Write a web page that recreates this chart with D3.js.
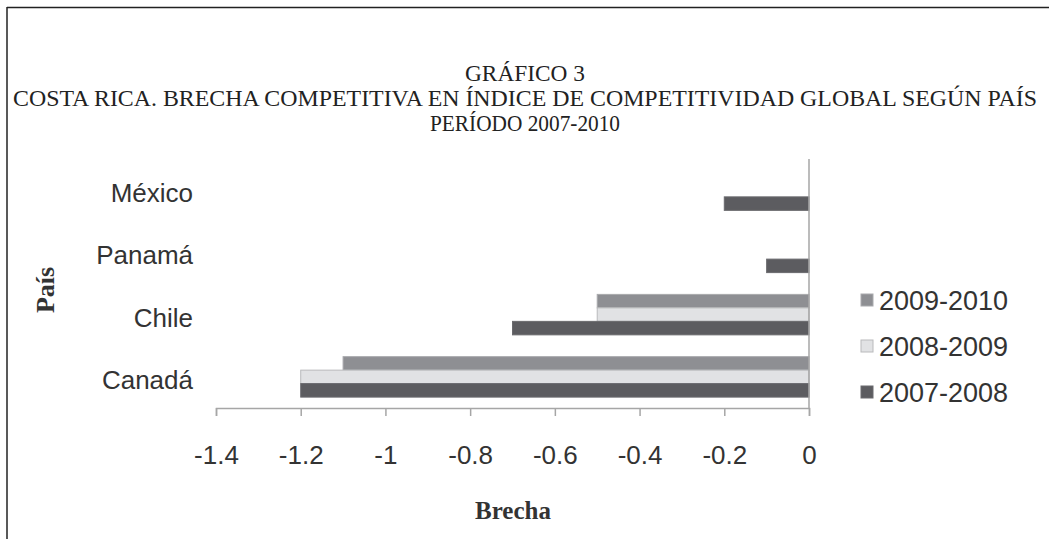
<!DOCTYPE html>
<html>
<head>
<meta charset="utf-8">
<script src="https://cdn.jsdelivr.net/npm/d3@7"></script>
<style>
  html, body { margin: 0; padding: 0; background: #fff; }
  svg { display: block; }
</style>
</head>
<body>
<svg id="chart" width="1049" height="539"></svg>
<script>
// ---- data ----
const categories = ["México", "Panamá", "Chile", "Canadá"];
const seriesNames = ["2009-2010", "2008-2009", "2007-2008"];
const values2009_2010 = [0, 0, -0.5, -1.1];
const values2008_2009 = [0, 0, -0.5, -1.2];
const values2007_2008 = [-0.2, -0.1, -0.7, -1.2];
const xTicks = [-1.4, -1.2, -1, -0.8, -0.6, -0.4, -0.2, 0];
const titleLines = [
  "GRÁFICO 3",
  "COSTA RICA. BRECHA COMPETITIVA EN ÍNDICE DE COMPETITIVIDAD GLOBAL SEGÚN PAÍS",
  "PERÍODO 2007-2010"
];

const seriesValues = [values2009_2010, values2008_2009, values2007_2008];
const colors = ["#8e8f93", "#e1e2e4", "#5c5c60"];
const strokes = ["#a9aaad", "#b9babc", "#6a6a6e"];
const sans = "'Liberation Sans', Arial, sans-serif";
const serif = "'Liberation Serif', 'DejaVu Serif', serif";

const svg = d3.select("#chart");

// frame
svg.append("line").attr("x1", 7).attr("x2", 1049).attr("y1", 7.5).attr("y2", 7.5)
  .attr("stroke", "#222").attr("stroke-width", 1.5);
svg.append("line").attr("x1", 7).attr("x2", 7).attr("y1", 7).attr("y2", 539)
  .attr("stroke", "#222").attr("stroke-width", 1.5);

// title
const titleSpec = [
  {y: 81, len: 120},
  {y: 106, len: 1024},
  {y: 131, len: 190}
];
titleLines.forEach((t, i) => {
  svg.append("text")
    .attr("x", 525).attr("y", titleSpec[i].y)
    .attr("text-anchor", "middle")
    .attr("font-family", serif)
    .attr("font-size", 24)
    .attr("fill", "#222")
    .attr("textLength", titleSpec[i].len)
    .attr("lengthAdjust", "spacingAndGlyphs")
    .text(t);
});

// scales
const x = d3.scaleLinear().domain([-1.4, 0]).range([216, 809]);
const y = d3.scaleBand().domain(categories).range([159, 408]).paddingInner(0.35).paddingOuter(0.175);
const ySub = d3.scaleBand().domain(seriesNames).range([0, y.bandwidth()]);

// bars
seriesNames.forEach((s, si) => {
  svg.append("g").selectAll("rect")
    .data(categories.map((c, ci) => ({c, v: seriesValues[si][ci]})).filter(d => d.v !== 0))
    .join("rect")
    .attr("x", d => x(d.v))
    .attr("y", d => y(d.c) + ySub(s))
    .attr("width", d => x(0) - x(d.v))
    .attr("height", ySub.bandwidth())
    .attr("fill", colors[si])
    .attr("stroke", strokes[si])
    .attr("stroke-width", 1);
});

// x axis
const xAxis = d3.axisBottom(x).tickValues(xTicks).tickSize(8).tickPadding(30)
  .tickFormat(d => String(d).replace("−", "-"));
const gx = svg.append("g").attr("transform", "translate(0,408)").call(xAxis);
gx.select(".domain").attr("stroke", "#a6a6a6").attr("stroke-width", 1.5);
gx.selectAll(".tick line").attr("stroke", "#a6a6a6").attr("stroke-width", 1.5);
gx.selectAll(".tick text")
  .attr("font-family", sans)
  .attr("font-size", 26).attr("fill", "#333");

// y axis line at 0
svg.append("line").attr("x1", x(0)).attr("x2", x(0)).attr("y1", 159).attr("y2", 408)
  .attr("stroke", "#a6a6a6").attr("stroke-width", 1.5);

// category labels
svg.append("g").selectAll("text").data(categories).join("text")
  .attr("x", 193)
  .attr("y", d => y(d) + y.bandwidth() / 2 + 3)
  .attr("text-anchor", "end")
  .attr("dominant-baseline", "central")
  .attr("font-family", sans)
  .attr("font-size", 26).attr("fill", "#333")
  .text(d => d);

// axis titles
svg.append("text")
  .attr("transform", "translate(54,290) rotate(-90)")
  .attr("text-anchor", "middle")
  .attr("font-family", serif).attr("font-weight", "bold")
  .attr("font-size", 26).attr("fill", "#333")
  .text("País");
svg.append("text")
  .attr("x", 513).attr("y", 519)
  .attr("text-anchor", "middle")
  .attr("font-family", serif).attr("font-weight", "bold")
  .attr("font-size", 25).attr("fill", "#333")
  .text("Brecha");

// legend
const legendY = [300, 346, 392];
const lg = svg.append("g");
seriesNames.forEach((s, i) => {
  lg.append("rect").attr("x", 861).attr("y", legendY[i] - 6).attr("width", 12).attr("height", 12)
    .attr("fill", colors[i]).attr("stroke", strokes[i]).attr("stroke-width", 1);
  lg.append("text").attr("x", 879).attr("y", legendY[i] + 1)
    .attr("dominant-baseline", "central")
    .attr("font-family", sans)
    .attr("font-size", 27).attr("fill", "#333")
    .text(s);
});
</script>
</body>
</html>
